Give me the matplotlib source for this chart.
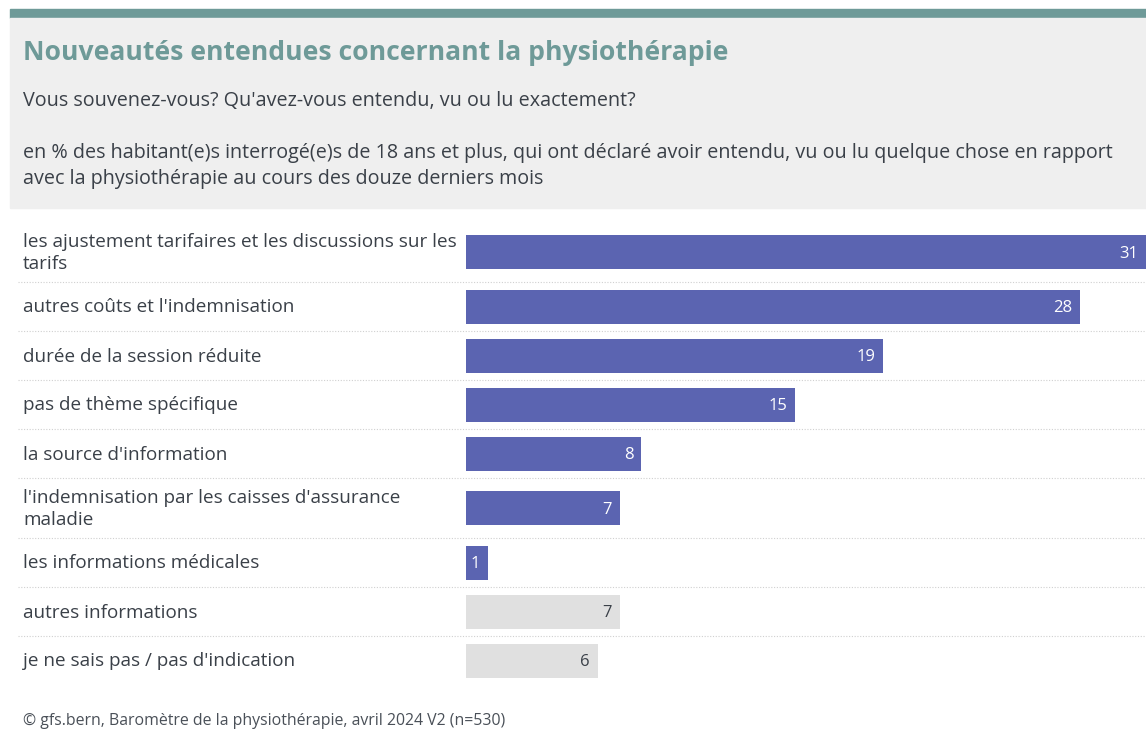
import matplotlib.pyplot as plt
import matplotlib.transforms as mtransforms
from matplotlib.patches import Rectangle

plt.rcParams['font.family'] = ['Open Sans', 'DejaVu Sans']

categories = [
    "les ajustement tarifaires et les discussions sur les\ntarifs",
    "autres coûts et l'indemnisation",
    "durée de la session réduite",
    "pas de thème spécifique",
    "la source d'information",
    "l'indemnisation par les caisses d'assurance\nmaladie",
    "les informations médicales",
    "autres informations",
    "je ne sais pas / pas d'indication",
]
values = [31, 28, 19, 15, 8, 7, 1, 7, 6]
is_other = [False, False, False, False, False, False, False, True, True]

title = "Nouveautés entendues concernant la physiothérapie"
subtitle = "Vous souvenez-vous? Qu'avez-vous entendu, vu ou lu exactement?"
note = ("en % des habitant(e)s interrogé(e)s de 18 ans et plus, qui ont déclaré avoir entendu, vu ou lu quelque chose en rapport\n"
        "avec la physiothérapie au cours des douze derniers mois")
source = "© gfs.bern, Baromètre de la physiothérapie, avril 2024 V2 (n=530)"

W, H = 1146, 744
TEAL = "#6e9a98"
BLUE = "#5b64b1"
GREY = "#e0e0e0"
TXT = "#3a4048"

fig = plt.figure(figsize=(W / 100, H / 100), dpi=100)

# header box
fig.patches.append(Rectangle((10 / W, 1 - 18 / H), 1, 9 / H, transform=fig.transFigure, color=TEAL, zorder=0))
fig.patches.append(Rectangle((10 / W, 1 - 208 / H), 1, 190 / H, transform=fig.transFigure, color="#efefef", zorder=0))

fig.text(23 / W, 1 - 53 / H, title, fontsize=19.1, fontweight="bold", color=TEAL, va="center")
fig.text(23 / W, 1 - 101 / H, subtitle, fontsize=14.2, color=TXT, va="center")
fig.text(23 / W, 1 - 166 / H, note, fontsize=14.2, color=TXT, va="center", linespacing=1.4)
fig.text(23 / W, 1 - 721 / H, source, fontsize=11.4, color="#4a5058", va="center")

# row layout: taller rows for wrapped labels
top, bottom = 222, 682
ax = fig.add_axes([466 / W, 1 - bottom / H, (W - 466) / W, (bottom - top) / H])
ax.set_xlim(0, 31)
ax.set_ylim(bottom, top)
ax.axis("off")

trans = mtransforms.blended_transform_factory(fig.transFigure, ax.transData)
y = top
for i, (cat, v) in enumerate(zip(categories, values)):
    h = 60 if "\n" in cat else 49
    c = y + h / 2
    ax.barh(c, v, height=34, left=0, color=GREY if is_other[i] else BLUE, edgecolor="none")
    ax.text(v - 0.35, c + 1.5, str(v), ha="right", va="center", fontsize=12,
            color=TXT if is_other[i] else "white")
    ax.text(23 / W, c + 1, cat, transform=trans, ha="left", va="center", fontsize=13.6,
            color=TXT, linespacing=1.3)
    y += h
    if i < len(categories) - 1:
        ax.plot([18 / W, 1], [y, y], transform=trans, color="#d0d0d0", lw=0.8,
                linestyle=(0, (1, 1.5)), clip_on=False)

fig.savefig("out.png", dpi=100)
